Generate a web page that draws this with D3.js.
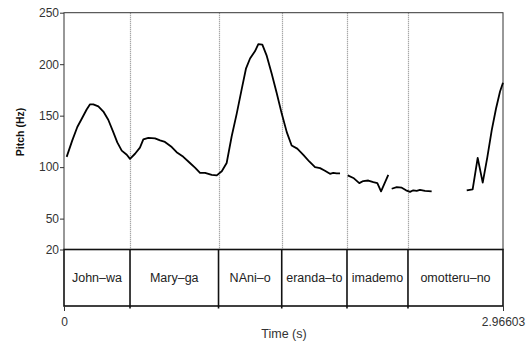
<!DOCTYPE html>
<html>
<head>
<meta charset="utf-8">
<script src="https://cdnjs.cloudflare.com/ajax/libs/d3/7.8.5/d3.min.js"></script>
<style>
    body { margin: 0; background: #ffffff; }
    svg { display: block; font-family: "Liberation Sans", Arial, sans-serif; }
</style>
</head>
<body>
<div id="pitch-plot"></div>
<script>
/////////////////DATA////////////////////////////
var totalTime = 2.96603;
var pitchTicks = [20, 50, 100, 150, 200, 250];
var timeTicks = [0, totalTime];

// word boundaries (s) and the labels of each interval
var boundaries = [0, 0.446, 1.044, 1.471, 1.912, 2.324, totalTime];
var words = ['John\u2013wa', 'Mary\u2013ga', 'NAni\u2013o', 'eranda\u2013to', 'imademo', 'omotteru\u2013no'];

// pitch contour, [time (s), pitch (Hz)], one array per voiced stretch
var contour1 = [
    [0.018, 110], [0.056, 126], [0.090, 139], [0.120, 147], [0.153, 156], [0.176, 161],
    [0.198, 161], [0.232, 159], [0.266, 154], [0.299, 146], [0.333, 134], [0.360, 124],
    [0.390, 116], [0.424, 112], [0.446, 108], [0.480, 113], [0.513, 119], [0.536, 127],
    [0.570, 128.5], [0.615, 128], [0.649, 126], [0.682, 124.5], [0.728, 119.5], [0.761, 114.5],
    [0.806, 110], [0.851, 104], [0.885, 99.5], [0.919, 94.5], [0.953, 94.5], [0.998, 92.5],
    [1.032, 92], [1.066, 96], [1.099, 104], [1.133, 130], [1.167, 152], [1.201, 176],
    [1.230, 196], [1.257, 205.5], [1.290, 212.5], [1.313, 219.5], [1.340, 219], [1.370, 208],
    [1.403, 191], [1.437, 172], [1.471, 152], [1.505, 134], [1.538, 121], [1.576, 118],
    [1.617, 112], [1.657, 105.5], [1.696, 100], [1.730, 99], [1.763, 96.5], [1.797, 93.5],
    [1.819, 94.5], [1.842, 94], [1.865, 94]
];
var contour2 = [
    [1.917, 92], [1.955, 89.5], [1.995, 84.5], [2.022, 86.5], [2.056, 87], [2.090, 85.5],
    [2.117, 84.5], [2.142, 76.5], [2.191, 92.5]
];
var contour3 = [
    [2.214, 79], [2.248, 80.5], [2.282, 80], [2.311, 77.5], [2.338, 76], [2.360, 77.5],
    [2.383, 77], [2.405, 78], [2.439, 77], [2.484, 76.5]
];
var contour4 = [
    [2.721, 77.5], [2.761, 78.5], [2.795, 109], [2.829, 85], [2.860, 109.5], [2.890, 136],
    [2.919, 157], [2.946, 173.5], [2.966, 182]
];
/////////////////END DATA////////////////////////////

window.pitchPlot = (function () {

    var Plot = {};

    Plot.init = function () {
        this._width = 526;
        this._height = 341;
        this._left = 64;
        this._right = 503;
        this._top = 12.7;
        this._pitchBottom = 249.5;
        this._tierBottom = 306;

        this._x = d3.scaleLinear().domain([0, totalTime]).range([this._left, this._right]);
        this._y = d3.scaleLinear().domain([20, 250]).range([this._pitchBottom, this._top]);

        this.createElement();
        this.drawFrame();
        this.drawContour();
        this.drawTier();
        this.drawAxes();
    };

    Plot.createElement = function () {
        this._svg = d3.select('#pitch-plot').append('svg')
            .attr('width', this._width)
            .attr('height', this._height);
    };

    Plot.drawFrame = function () {
        var self = this;
        var inner = boundaries.slice(1, boundaries.length - 1);

        // dotted word boundaries in the pitch panel
        this._svg.append('g').selectAll('line')
            .data(inner)
            .join('line')
            .attr('x1', function (d) { return Math.round(self._x(d)) + 0.5; })
            .attr('x2', function (d) { return Math.round(self._x(d)) + 0.5; })
            .attr('y1', this._top)
            .attr('y2', this._pitchBottom)
            .attr('stroke', '#8a8a8a')
            .attr('stroke-width', 1.2)
            .attr('stroke-dasharray', '1,1');

        this._svg.append('rect')
            .attr('x', this._left)
            .attr('y', this._top)
            .attr('width', this._right - this._left)
            .attr('height', this._pitchBottom - this._top)
            .attr('fill', 'none')
            .attr('stroke', '#333')
            .attr('stroke-width', 1);
    };

    Plot.drawContour = function () {
        var self = this;
        var line = d3.line()
            .x(function (d) { return self._x(d[0]); })
            .y(function (d) { return self._y(d[1]); });

        this._svg.append('g').selectAll('path')
            .data([contour1, contour2, contour3, contour4])
            .join('path')
            .attr('d', line)
            .attr('fill', 'none')
            .attr('stroke', '#000')
            .attr('stroke-width', 1.8)
            .attr('stroke-linejoin', 'round');
    };

    Plot.drawTier = function () {
        var self = this;
        var g = this._svg.append('g');

        g.append('rect')
            .attr('x', this._left)
            .attr('y', this._pitchBottom)
            .attr('width', this._right - this._left)
            .attr('height', this._tierBottom - this._pitchBottom)
            .attr('fill', 'none')
            .attr('stroke', '#111')
            .attr('stroke-width', 1.6);

        var inner = boundaries.slice(1, boundaries.length - 1);
        g.selectAll('line.bound')
            .data(inner)
            .join('line')
            .attr('class', 'bound')
            .attr('x1', function (d) { return self._x(d); })
            .attr('x2', function (d) { return self._x(d); })
            .attr('y1', this._pitchBottom)
            .attr('y2', this._tierBottom + 2.5)
            .attr('stroke', '#111')
            .attr('stroke-width', 1.6);

        g.selectAll('text')
            .data(words)
            .join('text')
            .attr('x', function (d, i) { return (self._x(boundaries[i]) + self._x(boundaries[i + 1])) / 2; })
            .attr('y', (this._pitchBottom + this._tierBottom) / 2)
            .attr('dy', '0.36em')
            .attr('text-anchor', 'middle')
            .attr('font-size', '12.5px')
            .attr('fill', '#222')
            .text(function (d) { return d; });
    };

    Plot.drawAxes = function () {
        var yAxis = d3.axisLeft(this._y)
            .tickValues(pitchTicks)
            .tickSize(4)
            .tickPadding(1)
            .tickFormat(d3.format('d'));

        var yg = this._svg.append('g')
            .attr('transform', 'translate(' + this._left + ',0)')
            .call(yAxis);
        yg.select('.domain').remove();
        yg.selectAll('line').attr('stroke', '#333');
        yg.selectAll('text').attr('font-size', '12px').attr('fill', '#333')
            .attr('font-family', '"Liberation Sans", Arial, sans-serif');

        var xAxis = d3.axisBottom(this._x)
            .tickValues(timeTicks)
            .tickSize(5)
            .tickPadding(6)
            .tickFormat(function (d) { return d === 0 ? '0' : String(d); });

        var xg = this._svg.append('g')
            .attr('transform', 'translate(0,' + this._tierBottom + ')')
            .call(xAxis);
        xg.select('.domain').remove();
        xg.selectAll('line').attr('stroke', '#333');
        xg.selectAll('text').attr('font-size', '12px').attr('fill', '#333')
            .attr('font-family', '"Liberation Sans", Arial, sans-serif');

        this._svg.append('text')
            .attr('x', (this._left + this._right) / 2 + 0.5)
            .attr('y', 338)
            .attr('text-anchor', 'middle')
            .attr('font-size', '12.5px')
            .attr('fill', '#333')
            .text('Time (s)');

        this._svg.append('text')
            .attr('transform', 'translate(24,132) rotate(-90)')
            .attr('text-anchor', 'middle')
            .attr('font-size', '10.5px')
            .attr('font-weight', 'bold')
            .attr('fill', '#111')
            .text('Pitch (Hz)');
    };

    return Plot;

})();

pitchPlot.init();
</script>
</body>
</html>
